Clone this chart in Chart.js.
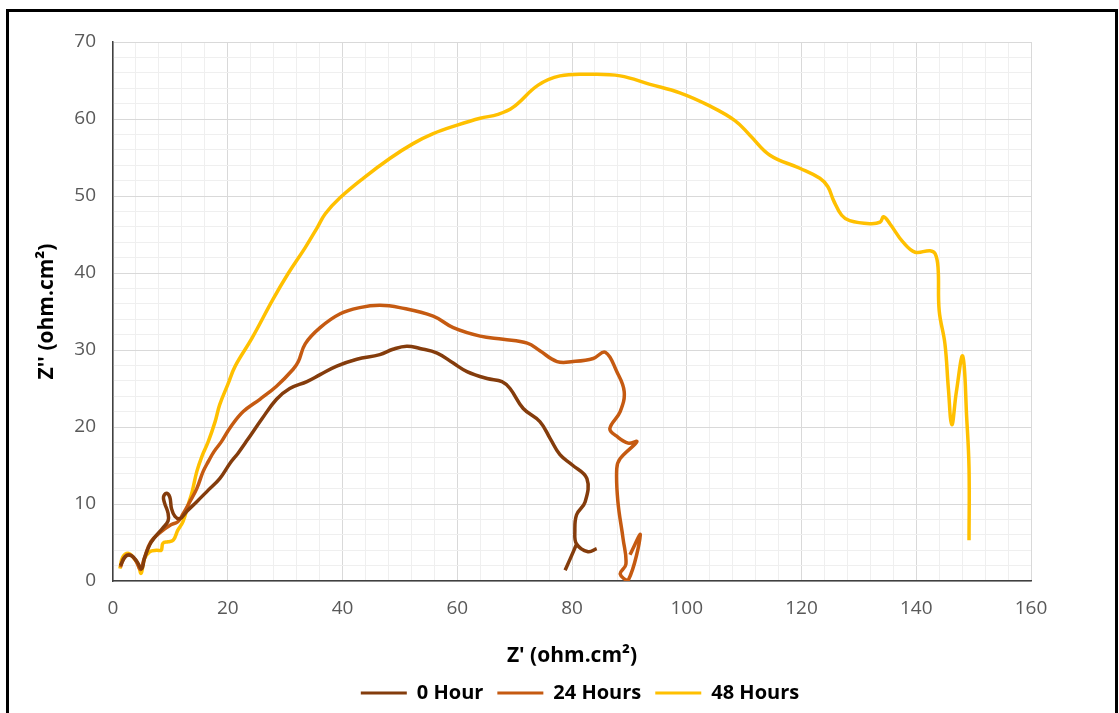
<!DOCTYPE html>
<html>
<head>
<meta charset="utf-8">
<script src="https://cdn.jsdelivr.net/npm/chart.js@4/dist/chart.umd.min.js"></script>
<style>
  html, body { margin: 0; padding: 0; background: #fff; overflow: hidden; }
  #frame { position: absolute; left: 6px; top: 9px; width: 1106px; height: 800px; border: 3px solid #000; box-sizing: content-box; }
  #wrap { position: absolute; left: 0; top: 0; width: 1119px; height: 713px; }
</style>
</head>
<body>
<div id="frame"></div>
<div id="wrap"><canvas id="c" width="1119" height="713"></canvas></div>
<script>
// ---- Data ----
const seriesNames = ["0 Hour", "24 Hours", "48 Hours"];
const seriesColors = ["#843C0C", "#C55A11", "#FFC000"];

const hour0X = [1.3, 2.2, 3.2, 4.2, 5.0, 5.5, 6.4, 7.3, 8.7, 9.6, 9.6, 9.0, 8.8, 9.3, 9.9, 10.2, 10.8, 11.7, 12.8, 14.6, 16.6, 18.6, 20.4, 21.8, 23.5, 26.0, 28.5, 30.8, 33.8, 36.1, 39.0, 42.5, 46.5, 48.8, 51.2, 53.5, 56.5, 59.3, 61.7, 65.2, 67.8, 69.2, 71.5, 74.4, 76.2, 77.9, 80.0, 82.6, 82.3, 80.8, 80.5, 80.8, 82.8, 84.3, null, 80.8, 79.7, 78.8];
const hour0Y = [2.0, 3.2, 3.3, 2.5, 1.6, 3.0, 4.7, 5.7, 6.9, 7.8, 8.8, 10.1, 10.9, 11.4, 10.9, 9.4, 8.4, 8.1, 9.0, 10.3, 11.8, 13.3, 15.3, 16.6, 18.4, 21.1, 23.6, 25.0, 25.9, 26.8, 27.9, 28.8, 29.4, 30.1, 30.5, 30.2, 29.6, 28.3, 27.2, 26.3, 25.9, 25.0, 22.4, 20.7, 18.5, 16.4, 15.1, 13.3, 10.3, 8.6, 6.5, 4.8, 3.8, 4.2, null, 4.8, 2.9, 1.4];

const hour24X = [1.3, 2.0, 3.0, 4.0, 4.8, 5.4, 6.6, 8.4, 10.1, 11.3, 12.2, 13.4, 14.6, 15.7, 16.6, 17.6, 18.9, 20.5, 22.7, 25.6, 28.5, 31.4, 32.3, 33.5, 36.1, 39.6, 43.0, 46.5, 50.0, 55.8, 59.3, 64.0, 68.0, 72.2, 74.4, 77.4, 80.2, 83.7, 85.8, 87.8, 89.1, 88.4, 86.6, 87.8, 89.8, 91.3, 88.4, 87.8, 88.0, 88.9, 89.4, 88.4, 89.8, 91.9, 90.1];
const hour24Y = [1.8, 3.1, 3.4, 2.6, 1.5, 2.8, 5.1, 6.4, 7.3, 7.7, 8.7, 10.3, 12.0, 14.2, 15.5, 16.8, 18.1, 20.0, 22.0, 23.6, 25.3, 27.5, 28.5, 30.8, 32.9, 34.7, 35.5, 35.8, 35.5, 34.4, 32.9, 31.8, 31.4, 30.9, 29.9, 28.5, 28.5, 28.9, 29.7, 27.2, 24.6, 22.0, 19.8, 18.8, 17.9, 18.1, 15.9, 14.6, 10.3, 5.5, 2.2, 0.9, 0.1, 6.0, 3.4];

const hour48X = [1.2, 1.7, 2.6, 3.5, 4.4, 4.9, 5.5, 6.4, 7.6, 8.4, 8.7, 9.6, 10.5, 11.3, 12.2, 13.1, 13.8, 14.6, 15.5, 16.6, 17.8, 18.6, 20.0, 21.3, 24.2, 27.9, 30.5, 33.5, 35.6, 37.0, 39.6, 43.6, 48.3, 52.3, 55.8, 60.0, 64.0, 67.1, 69.7, 74.1, 77.9, 83.1, 88.4, 93.6, 98.8, 104.0, 108.4, 111.0, 114.5, 119.7, 123.2, 124.6, 125.6, 127.0, 128.4, 131.9, 133.7, 134.3, 135.4, 137.7, 139.8, 142.4, 143.3, 143.8, 144.0, 145.0, 145.6, 146.2, 147.0, 148.1, 148.8, 149.2, 149.2];
const hour48Y = [1.6, 3.1, 3.6, 3.1, 2.1, 1.0, 2.9, 3.8, 4.0, 4.0, 4.9, 5.1, 5.3, 6.6, 7.7, 9.9, 11.6, 14.2, 16.2, 18.1, 20.7, 22.9, 25.5, 27.9, 31.5, 36.6, 39.9, 43.3, 45.9, 47.7, 49.8, 52.3, 54.9, 56.8, 58.1, 59.2, 60.1, 60.6, 61.5, 64.4, 65.6, 65.8, 65.6, 64.5, 63.4, 61.7, 59.8, 57.9, 55.3, 53.6, 52.3, 51.2, 49.4, 47.5, 46.8, 46.4, 46.6, 47.3, 46.4, 44.0, 42.7, 42.9, 42.5, 40.7, 35.1, 30.8, 25.0, 20.3, 24.6, 29.2, 21.1, 14.6, 5.3];

const xTickLabels = [0, 20, 40, 60, 80, 100, 120, 140, 160];
const yTickLabels = [0, 10, 20, 30, 40, 50, 60, 70];
const xTitle = "Z' (ohm.cm²)";
const yTitle = "Z'' (ohm.cm²)";

// ---- Build datasets ----
function pts(xs, ys) { return xs.map((x, i) => ({ x: x, y: ys[i] })); }
const allX = [hour0X, hour24X, hour48X];
const allY = [hour0Y, hour24Y, hour48Y];
const datasets = seriesNames.map((name, i) => ({
  label: name,
  data: pts(allX[i], allY[i]),
  borderColor: seriesColors[i],
  backgroundColor: seriesColors[i],
  borderWidth: 3.5,
  pointRadius: 0,
  pointHoverRadius: 0,
  tension: 0.4,
  fill: false,
  spanGaps: false
}));

const FONT = "'Open Sans', 'Liberation Sans', sans-serif";
const majorGrid = '#d9d9d9', minorGrid = '#efefef';

new Chart(document.getElementById('c'), {
  type: 'line',
  data: { datasets: datasets },
  options: {
    responsive: false,
    animation: false,
    events: [],
    layout: { padding: { left: 34, top: 42, right: -7, bottom: 0 } },
    plugins: {
      tooltip: { enabled: false },
      legend: {
        position: 'bottom',
        labels: {
          boxWidth: 46,
          boxHeight: 3,
          padding: 14,
          color: '#000',
          font: { family: FONT, size: 20, weight: 'bold' },
          generateLabels: (chart) => Chart.defaults.plugins.legend.labels.generateLabels(chart).map(l => ({ ...l, lineWidth: 0 }))
        }
      }
    },
    scales: {
      x: {
        type: 'linear',
        min: 0, max: 160,
        afterFit: (s) => { s.height = 88; },
        border: { color: '#404040', width: 1.5 },
        grid: {
          drawTicks: false,
          color: (ctx) => (xTickLabels.includes(ctx.tick.value) ? majorGrid : minorGrid),
          lineWidth: 1
        },
        ticks: {
          stepSize: 4,
          autoSkip: false,
          maxRotation: 0,
          padding: 16,
          color: '#595959',
          font: { family: FONT, size: 19 },
          callback: (v) => (xTickLabels.includes(v) ? String(v) : '')
        },
        title: {
          display: true,
          text: xTitle,
          color: '#000',
          font: { family: FONT, size: 21, weight: 'bold' },
          padding: { top: 0, bottom: 0 }
        }
      },
      y: {
        type: 'linear',
        min: 0, max: 70,
        afterFit: (s) => { s.width = 79; },
        border: { color: '#404040', width: 1.5 },
        grid: {
          drawTicks: false,
          color: (ctx) => (yTickLabels.includes(ctx.tick.value) ? majorGrid : minorGrid),
          lineWidth: 1
        },
        ticks: {
          stepSize: 2,
          autoSkip: false,
          padding: 17,
          color: '#595959',
          font: { family: FONT, size: 19 },
          callback: (v) => (yTickLabels.includes(v) ? String(v) : '')
        },
        title: {
          display: true,
          text: yTitle,
          color: '#000',
          font: { family: FONT, size: 21, weight: 'bold' },
          padding: { top: 0, bottom: 0 }
        }
      },
      yRightSpace: {
        type: 'linear',
        position: 'right',
        display: true,
        afterFit: (s) => { s.width = 95; },
        grid: { display: false, drawTicks: false },
        border: { display: false },
        ticks: { display: false },
        title: { display: false }
      }
    }
  }
});
</script>
</body>
</html>
